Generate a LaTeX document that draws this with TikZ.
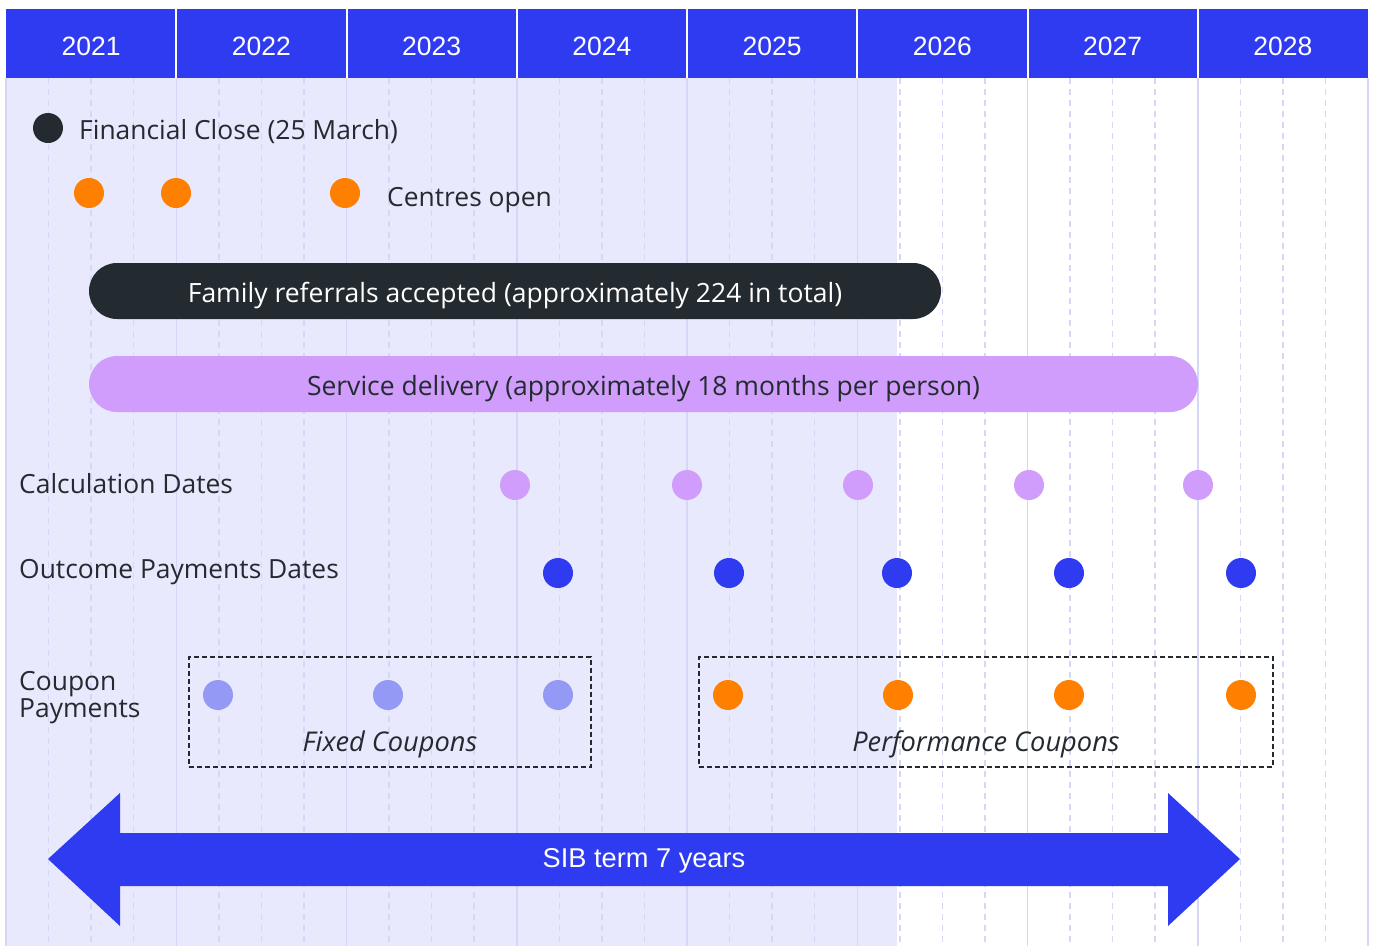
\documentclass[tikz,border=0pt]{standalone}
\usepackage{fontspec}
\setmainfont{Open Sans}
\newfontfamily\arialf{Liberation Sans}
\definecolor{hdrblue}{HTML}{2E3BF1}
\definecolor{shadebg}{HTML}{E9E9FD}
\definecolor{gridc}{HTML}{D6D6F6}
\definecolor{darkc}{HTML}{232B30}
\definecolor{orangec}{HTML}{FF7F00}
\definecolor{purplec}{HTML}{D09DFC}
\definecolor{lavc}{HTML}{9499F5}
\begin{document}
\begin{tikzpicture}[x=1pt,y=-1pt,
  dot/.style={circle,inner sep=0pt,minimum size=30pt},
  yearlbl/.style={text=white,font=\arialf\fontsize{26.5}{30}\selectfont},
  lbl/.style={text=darkc,anchor=base west,inner sep=0pt,font=\fontsize{26.4}{30}\selectfont},
  bar/.style={rounded corners=28pt,minimum height=56pt,inner sep=0pt,text height=22pt,text depth=0pt,font=\fontsize{26.5}{30}\selectfont},
  couponbox/.style={draw=darkc,line width=1.5pt,dash pattern=on 5pt off 3pt,minimum height=110pt,inner sep=0pt},
  itlbl/.style={text=darkc,font=\itshape\fontsize{27.2}{31}\selectfont,inner sep=0pt,anchor=base},
  gridsolid/.style={draw=gridc,line width=1.5pt},
  griddash/.style={draw=gridc,line width=1.5pt,dash pattern=on 6pt off 5pt}
]
\useasboundingbox (0,0) rectangle (1373,946);
\fill[white] (0,0) rectangle (1373,946);
\fill[shadebg] (6,78) rectangle (897,946);
% grid
\foreach \k in {0,...,8} \draw[gridsolid] ({6+170.25*\k},78) -- ({6+170.25*\k},946);
\foreach \k in {0,...,7} \foreach \q in {1,2,3} \draw[griddash] ({6+170.25*\k+42.56*\q},78) -- ({6+170.25*\k+42.56*\q},946);
% header
\fill[hdrblue] (6,9) rectangle (1368,78);
\foreach \k in {1,...,7} \draw[white,line width=2pt] ({6+170.25*\k},9) -- ({6+170.25*\k},78);
\foreach \y [count=\i from 0] in {2021,...,2028}
  \node[yearlbl] (y\y) at ({6+170.25*\i+85.1},46) {\y};
% financial close
\node[dot,fill=darkc] (fc) at (48,128) {};
\node[lbl] (fclbl) at (79,139.5) {Financial Close (25 March)};
% centres open
\node[dot,fill=orangec] (co1) at (89,193) {};
\node[dot,fill=orangec] (co2) at (176,193) {};
\node[dot,fill=orangec] (co3) at (345,193) {};
\node[lbl] (colbl) at (387,206.5) {Centres open};
% bars
\node[bar,fill=darkc,text=white,minimum width=852pt] (referrals) at (515,291) {Family referrals accepted (approximately 224 in total)};
\node[bar,fill=purplec,text=darkc,minimum width=1109pt] (service) at (643.5,384) {Service delivery (approximately 18 months per person)};
% calculation dates
\node[lbl] (calclbl) at (19,493.3) {Calculation Dates};
\foreach \x [count=\i] in {515,687,858,1029,1198}
  \node[dot,fill=purplec] (cd\i) at (\x,485) {};
% outcome payments
\node[lbl] (opdlbl) at (19,578.5) {Outcome Payments Dates};
\foreach \x [count=\i] in {558,729,897,1069,1241}
  \node[dot,fill=hdrblue] (op\i) at (\x,573) {};
% coupons
\node[lbl] (cplbl1) at (19,690) {Coupon};
\node[lbl] (cplbl2) at (19,717) {Payments};
\node[couponbox,minimum width=402pt] (fixedbox) at (390,712) {};
\node[couponbox,minimum width=574pt] (perfbox) at (986,712) {};
\foreach \x [count=\i] in {218,388,558}
  \node[dot,fill=lavc] (fx\i) at (\x,695) {};
\foreach \x [count=\i] in {728,898,1069,1241}
  \node[dot,fill=orangec] (pc\i) at (\x,695) {};
\node[itlbl] (fixedlbl) at (390,751.5) {Fixed Coupons};
\node[itlbl] (perflbl) at (986,751.5) {Performance Coupons};
% SIB arrow
\fill[hdrblue] (48,859) -- (120,793) -- (120,833) -- (1168,833) -- (1168,793) -- (1240,859) -- (1168,926) -- (1168,886) -- (120,886) -- (120,926) -- cycle;
\node[text=white,font=\arialf\fontsize{27.2}{31}\selectfont] (sib) at (644,861) {SIB term 7 years};
\end{tikzpicture}
\end{document}
